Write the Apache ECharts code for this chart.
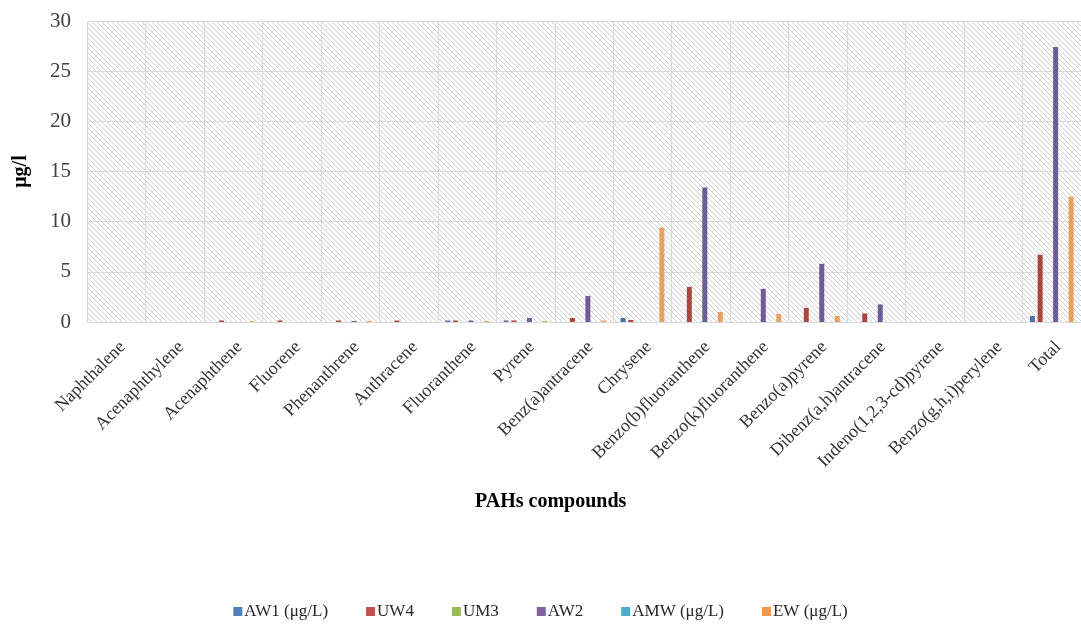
<!DOCTYPE html>
<html>
<head>
<meta charset="utf-8">
<script src="https://cdn.jsdelivr.net/npm/echarts@6/dist/echarts.min.js"></script>
<style>html,body{margin:0;padding:0;background:#fff}#c{width:1081px;height:631px}</style>
</head>
<body>
<div id="c"></div>
<script>
var categories = ["Naphthalene","Acenaphthylene","Acenaphthene","Fluorene","Phenanthrene","Anthracene","Fluoranthene","Pyrene","Benz(a)antracene","Chrysene","Benzo(b)fluoranthene","Benzo(k)fluoranthene","Benzo(a)pyrene","Dibenz(a,h)antracene","Indeno(1,2,3-cd)pyrene","Benzo(g,h,i)perylene","Total"];
var seriesNames = ["AW1 (μg/L)","UW4","UM3","AW2","AMW (μg/L)","EW (μg/L)"];
var AW1 = [0,0,0,0,0,0,0.15,0.15,0,0.4,0,0,0,0,0,0,0.6];
var UW4 = [0,0,0.15,0.15,0.15,0.15,0.15,0.15,0.4,0.2,3.5,0,1.4,0.85,0,0,6.7];
var UM3 = [0,0,0,0,0,0,0,0,0,0,0,0,0,0,0,0,0];
var AW2 = [0,0,0,0,0.1,0,0.15,0.4,2.6,0,13.4,3.3,5.8,1.75,0,0,27.4];
var AMW = [0,0,0,0,0,0,0,0,0,0,0,0,0,0,0,0,0];
var EW  = [0,0,0.08,0,0.1,0,0.1,0.1,0.15,9.4,1.0,0.8,0.6,0,0,0,12.5];
var yTicks = [0,5,10,15,20,25,30];

var legendColors = ["#4F81BD","#C0504D","#9BBB59","#8064A2","#4BACC6","#F79646"];
var barColors = ["#4A74AA","#A9463F","#8FAE55","#6F5B96","#47A0B8","#E6A35E"];
var data = [AW1,UW4,UM3,AW2,AMW,EW];

var pc = document.createElement('canvas');
pc.width = 5; pc.height = 5;
var ctx = pc.getContext('2d');
ctx.fillStyle = '#ffffff'; ctx.fillRect(0,0,5,5);
ctx.strokeStyle = '#cdcdcd'; ctx.lineWidth = 1;
ctx.beginPath();
ctx.moveTo(-1,-1); ctx.lineTo(6,6);
ctx.moveTo(-1,4); ctx.lineTo(1,6);
ctx.moveTo(4,-1); ctx.lineTo(6,1);
ctx.stroke();

var chart = echarts.init(document.getElementById('c'));
var font = '"Liberation Serif", "Times New Roman", serif';
chart.setOption({
  animation: false,
  color: legendColors,
  grid: {left: 87, top: 21, right: -9, bottom: 309, show: true,
         backgroundColor: {image: pc, repeat: 'repeat'}, borderWidth: 0},
  legend: {
    top: 598, left: 'center', itemWidth: 9, itemHeight: 9, itemGap: 38, icon: 'rect',
    textStyle: {fontFamily: font, fontSize: 17, color: '#262626', padding: [0,0,0,-3]},
    data: seriesNames.map(function(n, i){ return {name: n, itemStyle: {color: legendColors[i]}}; })
  },
  graphic: [{
    type: 'text', left: 555 - 80, top: 492,
    style: {text: 'PAHs compounds', fontFamily: font, fontSize: 20, fontWeight: 'bold', fill: '#000', width: 160, align: 'center'}
  }],
  xAxis: {
    type: 'category', data: categories,
    axisLine: {lineStyle: {color: '#d9d9d9', width: 1}},
    axisTick: {show: false},
    splitLine: {show: true, lineStyle: {color: '#d9d9d9', width: 1}},
    axisLabel: {interval: 0, rotate: 45, fontFamily: font, fontSize: 18, color: '#333', margin: 16, verticalAlign: 'top'}
  },
  yAxis: {
    type: 'value', min: 0, max: 30, interval: 5,
    name: 'μg/l', nameLocation: 'middle', nameGap: 56,
    nameTextStyle: {fontFamily: font, fontSize: 20, fontWeight: 'bold', color: '#000'},
    axisLine: {show: false}, axisTick: {show: false},
    splitLine: {show: true, lineStyle: {color: '#d9d9d9', width: 1}},
    axisLabel: {fontFamily: font, fontSize: 21, color: '#404040', margin: 16,
      formatter: function(v){ return yTicks.indexOf(v) >= 0 ? String(v) : ''; }}
  },
  series: seriesNames.map(function(n, i){
    return {name: n, type: 'bar', data: data[i], barWidth: 5, barGap: '55%',
            itemStyle: {color: barColors[i]}};
  })
});
</script>
</body>
</html>
